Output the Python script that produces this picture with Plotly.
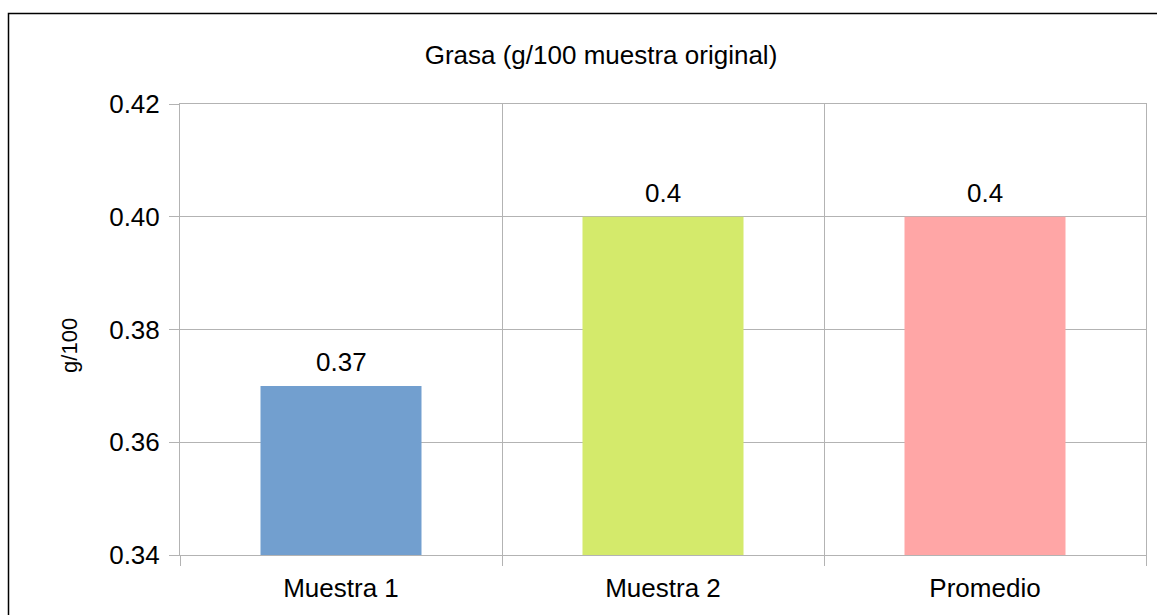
import plotly.graph_objects as go

# Chart data
categories = ["Muestra 1", "Muestra 2", "Promedio"]
values = [0.37, 0.4, 0.4]
bar_colors = ["#729fcf", "#d4ea6b", "#ffa6a6"]
y_ticks = [0.34, 0.36, 0.38, 0.40, 0.42]

W, H = 1161, 615
L, R, T, B = 180, 15, 104, 58
pw, ph = W - L - R, H - T - B

def px_x(x):
    return (x - L) / pw

def px_y(y):
    return (H - B - y) / ph

FONT = "Liberation Sans, Arial, sans-serif"
GRID = "#b3b3b3"
FS = 26

fig = go.Figure(
    go.Bar(
        x=categories,
        y=values,
        width=0.5,
        marker=dict(color=bar_colors, line=dict(width=0)),
        hoverinfo="x+y",
    )
)

# value labels above each bar
value_labels = [
    dict(
        x=c,
        y=v,
        xref="x",
        yref="y",
        text=f"{v:g}",
        showarrow=False,
        xanchor="center",
        yanchor="bottom",
        yshift=7,
        font=dict(size=FS, color="black", family=FONT),
    )
    for c, v in zip(categories, values)
]

fig.update_layout(
    width=W,
    height=H,
    margin=dict(l=L, r=R, t=T, b=B),
    paper_bgcolor="white",
    plot_bgcolor="white",
    font=dict(family=FONT, color="black", size=FS),
    showlegend=False,
    title=dict(
        text="Grasa (g/100 muestra original)",
        x=601 / W,
        xanchor="center",
        y=1 - 55 / H,
        yanchor="middle",
        font=dict(size=FS, color="black", family=FONT),
    ),
    xaxis=dict(
        tickson="boundaries",
        ticks="outside",
        ticklen=10,
        tickcolor=GRID,
        ticklabelstandoff=10,
        showgrid=True,
        gridcolor=GRID,
        gridwidth=1,
        showline=True,
        linecolor=GRID,
        mirror=True,
        tickfont=dict(size=FS, color="black"),
    ),
    yaxis=dict(
        range=[0.34, 0.42],
        tickvals=y_ticks,
        tickformat=".2f",
        ticks="outside",
        ticklen=10,
        tickcolor=GRID,
        ticklabelstandoff=4,
        showgrid=True,
        gridcolor=GRID,
        gridwidth=1,
        showline=True,
        linecolor=GRID,
        mirror=True,
        zeroline=False,
        tickfont=dict(size=FS, color="black"),
    ),
    annotations=value_labels + [
        dict(
            text="g/100",
            xref="paper",
            yref="paper",
            x=px_x(70),
            y=px_y(347),
            textangle=-90,
            showarrow=False,
            xanchor="center",
            yanchor="middle",
            font=dict(size=22, color="black", family=FONT),
        )
    ],
    shapes=[
        # outer frame (left and top edges)
        dict(
            type="path",
            xref="paper",
            yref="paper",
            path=f"M {px_x(8.5)} {px_y(H + 5)} L {px_x(8.5)} {px_y(13)} L {px_x(1157)} {px_y(13)}",
            line=dict(color="black", width=1.5),
        )
    ],
)

fig.write_html("out.html")
